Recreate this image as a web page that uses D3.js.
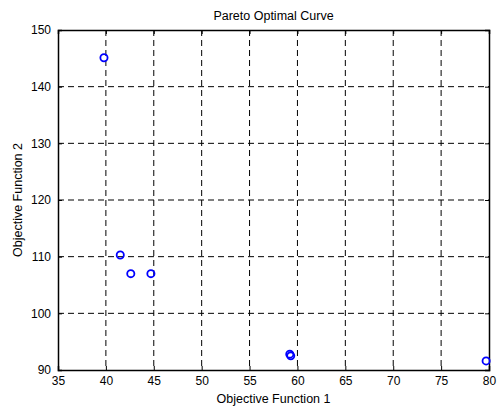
<!DOCTYPE html>
<html>
<head>
<meta charset="utf-8">
<script src="https://cdn.jsdelivr.net/npm/d3@7.9.0/dist/d3.min.js"></script>
<style>
  body { margin: 0; background: #fff; }
  text { font-family: "Liberation Sans", Arial, sans-serif; fill: #000; }
</style>
</head>
<body>
<svg id="chart" width="500" height="407"></svg>
<script>
const f1 = [39.8, 41.5, 42.6, 44.7, 59.2, 59.3, 79.7];
const f2 = [145.1, 110.3, 107.0, 107.0, 92.8, 92.5, 91.6];
const xTicks = [35, 40, 45, 50, 55, 60, 65, 70, 75, 80];
const yTicks = [90, 100, 110, 120, 130, 140, 150];

const svg = d3.select('#chart');
const margin = { left: 58, top: 30, right: 11, bottom: 37 };
const width = 500 - margin.left - margin.right;
const height = 407 - margin.top - margin.bottom;

const x = d3.scaleLinear().domain([35, 80]).range([0, width]);
const y = d3.scaleLinear().domain([90, 150]).range([height, 0]);

const g = svg.append('g').attr('transform', `translate(${margin.left},${margin.top})`);

// grid
g.selectAll('.vgrid')
  .data(xTicks.slice(1, -1))
  .join('line')
  .attr('x1', d => x(d)).attr('x2', d => x(d))
  .attr('y1', 0).attr('y2', height)
  .attr('stroke', '#000').attr('stroke-width', 1)
  .attr('stroke-dasharray', '6,4');

g.selectAll('.hgrid')
  .data(yTicks.slice(1, -1))
  .join('line')
  .attr('y1', d => y(d)).attr('y2', d => y(d))
  .attr('x1', 0).attr('x2', width)
  .attr('stroke', '#000').attr('stroke-width', 1)
  .attr('stroke-dasharray', '6,4');

// axes (ticks inward)
g.append('g').attr('transform', `translate(0,${height})`)
  .call(d3.axisBottom(x).tickValues(xTicks).tickSize(-4).tickPadding(6));
g.append('g')
  .call(d3.axisLeft(y).tickValues(yTicks).tickSize(-4).tickPadding(7));
g.append('g').call(d3.axisTop(x).tickValues(xTicks).tickSize(-4).tickFormat(''));
g.append('g').attr('transform', `translate(${width},0)`)
  .call(d3.axisRight(y).tickValues(yTicks).tickSize(-4).tickFormat(''));

g.selectAll('.domain').attr('stroke', '#000').attr('stroke-width', 1.5);
g.selectAll('.tick line').attr('stroke', '#000');
g.selectAll('.tick text').attr('font-size', 12).attr('font-family', '"Liberation Sans", Arial, sans-serif');

// points
g.selectAll('circle')
  .data(f1.map((v, i) => [v, f2[i]]))
  .join('circle')
  .attr('cx', d => x(d[0]))
  .attr('cy', d => y(d[1]))
  .attr('r', 3.6)
  .attr('fill', 'none')
  .attr('stroke', '#0000ff')
  .attr('stroke-width', 1.8);

// labels
svg.append('text')
  .attr('x', margin.left + width / 2).attr('y', 20)
  .attr('text-anchor', 'middle').attr('font-size', 12.5)
  .text('Pareto Optimal Curve');

svg.append('text')
  .attr('x', margin.left + width / 2).attr('y', 403)
  .attr('text-anchor', 'middle').attr('font-size', 12.5)
  .text('Objective Function 1');

svg.append('text')
  .attr('transform', `translate(22,${margin.top + height / 2}) rotate(-90)`)
  .attr('text-anchor', 'middle').attr('font-size', 12.5)
  .text('Objective Function 2');
</script>
</body>
</html>
